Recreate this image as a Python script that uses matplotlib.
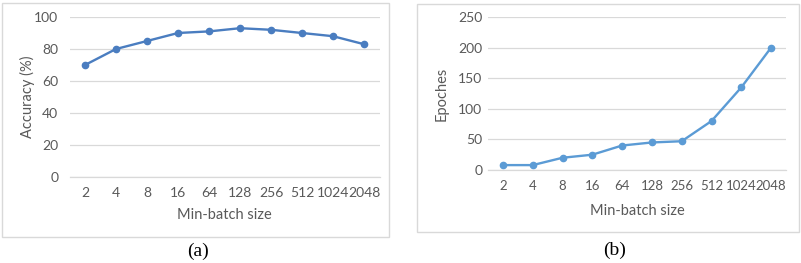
import matplotlib
matplotlib.use("Agg")
import matplotlib.pyplot as plt
from matplotlib.patches import Rectangle

batch_sizes = ['2', '4', '8', '16', '64', '128', '256', '512', '1024', '2048']
accuracy = [70, 80, 85, 90, 91, 93, 92, 90, 88, 83]
epoches = [8, 8, 20, 25, 40, 45, 47, 80, 135, 200]

W, H = 801, 263
plt.rcParams['font.family'] = ['Lato', 'DejaVu Sans']
txt_col = '#595959'
grid_col = '#D9D9D9'

fig = plt.figure(figsize=(W / 100, H / 100), dpi=100)


def fx(px):
    return px / W


def fy(py):
    return 1 - py / H


def style(ax, ymax, step, ypad, xsize):
    ax.set_xlim(-0.5, len(batch_sizes) - 0.5)
    ax.set_ylim(0, ymax)
    ax.set_yticks(range(0, ymax + 1, step))
    ax.set_xticks(range(len(batch_sizes)))
    ax.set_xticklabels(batch_sizes)
    ax.grid(axis='y', color=grid_col, linewidth=0.9)
    ax.set_axisbelow(True)
    for s in ['top', 'right', 'left']:
        ax.spines[s].set_visible(False)
    ax.spines['bottom'].set_color(grid_col)
    ax.spines['bottom'].set_linewidth(0.9)
    ax.tick_params(axis='both', length=0, labelsize=10, colors=txt_col)
    ax.tick_params(axis='x', pad=7.5, labelsize=xsize)
    ax.tick_params(axis='y', pad=ypad)


# borders around each panel
fig.patches.append(Rectangle((fx(2), fy(237)), fx(387), (237 - 3) / H,
                             transform=fig.transFigure, fill=False,
                             edgecolor=grid_col, linewidth=1))
fig.patches.append(Rectangle((fx(417), fy(232)), fx(382), (232 - 4) / H,
                             transform=fig.transFigure, fill=False,
                             edgecolor=grid_col, linewidth=1))

# (a) accuracy
ax1 = fig.add_axes([fx(69.5), fy(177), fx(310), 160 / H])
ax1.plot(range(len(batch_sizes)), accuracy, color='#4A7DC0', linewidth=1.7,
         marker='o', markersize=4.5)
style(ax1, 100, 20, 8, 10)
fig.text(fx(224.5), fy(215), 'Min-batch size', ha='center', va='center',
         fontsize=10.5, color=txt_col)
fig.text(fx(27), fy(97), 'Accuracy (%)', ha='center', va='center',
         rotation=90, fontsize=10.5, color=txt_col)
fig.text(fx(198), fy(251), '(a)', ha='center', va='center', fontsize=14,
         family='Liberation Serif')

# (b) epoches
ax2 = fig.add_axes([fx(488), fy(170), fx(298), 153 / H])
ax2.plot(range(len(batch_sizes)), epoches, color='#5B9BD5', linewidth=1.7,
         marker='o', markersize=4.5)
style(ax2, 250, 50, 4, 9.5)
fig.text(fx(637), fy(211), 'Min-batch size', ha='center', va='center',
         fontsize=10.5, color=txt_col)
fig.text(fx(442), fy(94), 'Epoches', ha='center', va='center',
         rotation=90, fontsize=10.5, color=txt_col)
fig.text(fx(615), fy(250), '(b)', ha='center', va='center', fontsize=14,
         family='Liberation Serif')

fig.savefig('out.png', dpi=100)
